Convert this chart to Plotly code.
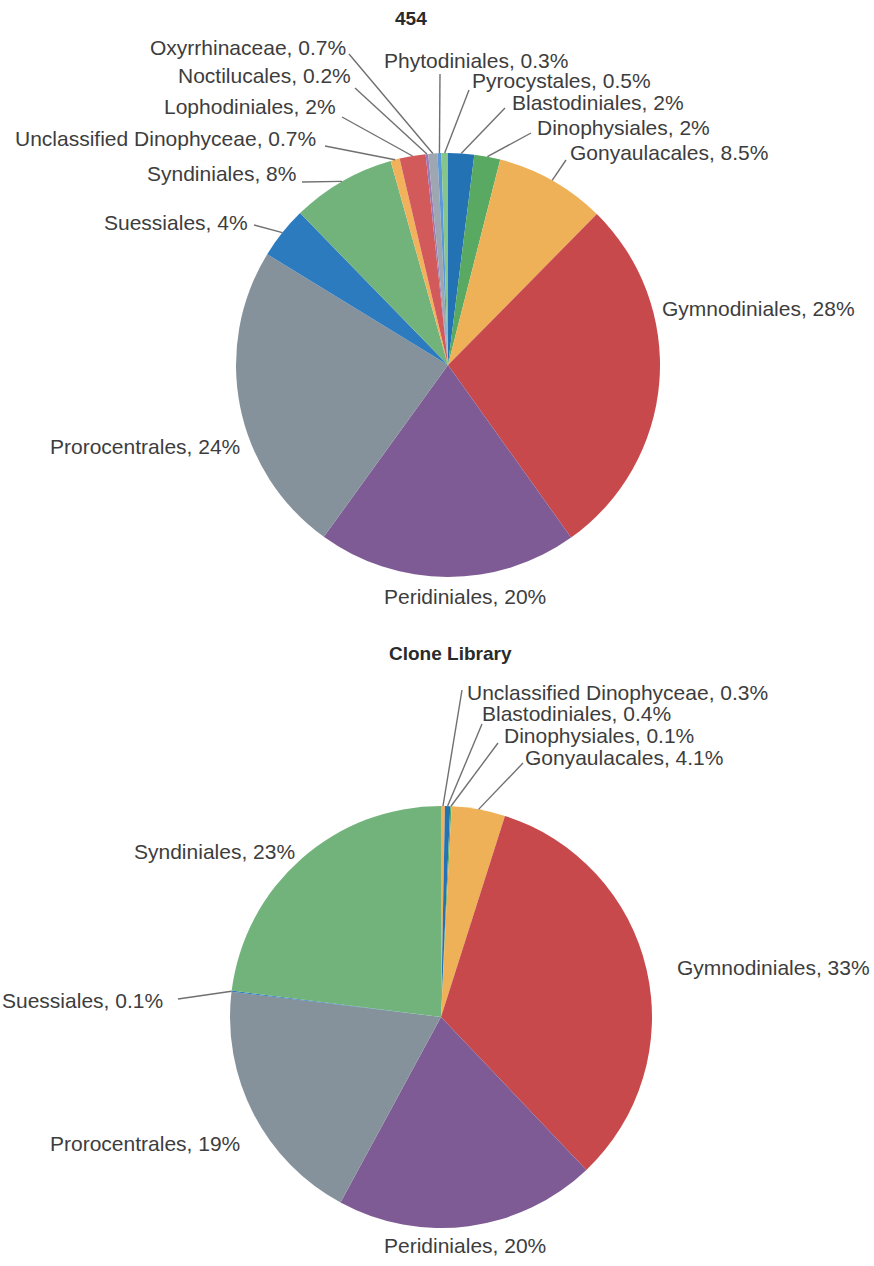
import math
import plotly.graph_objects as go

W, H = 874, 1266

# ---------------- data ----------------
top_title = "454"
top_labels = ["Blastodiniales", "Dinophysiales", "Gonyaulacales", "Gymnodiniales",
              "Peridiniales", "Prorocentrales", "Suessiales", "Syndiniales",
              "Unclassified Dinophyceae", "Lophodiniales", "Noctilucales",
              "Oxyrrhinaceae", "Phytodiniales", "Pyrocystales"]
top_values = [2, 2, 8.5, 28, 20, 24, 4, 8, 0.7, 2, 0.2, 0.7, 0.3, 0.5]
top_value_text = ["2%", "2%", "8.5%", "28%", "20%", "24%", "4%", "8%", "0.7%", "2%",
                  "0.2%", "0.7%", "0.3%", "0.5%"]

bot_title = "Clone Library"
bot_labels = ["Unclassified Dinophyceae", "Blastodiniales", "Dinophysiales",
              "Gonyaulacales", "Gymnodiniales", "Peridiniales", "Prorocentrales",
              "Suessiales", "Syndiniales"]
bot_values = [0.3, 0.4, 0.1, 4.1, 33, 20, 19, 0.1, 23]
bot_value_text = ["0.3%", "0.4%", "0.1%", "4.1%", "33%", "20%", "19%", "0.1%", "23%"]

# ---------------- styles ----------------
color_map = {
    "Blastodiniales": "#2372b3",
    "Dinophysiales": "#5aa963",
    "Gonyaulacales": "#eeb157",
    "Gymnodiniales": "#c8494c",
    "Peridiniales": "#7e5b94",
    "Prorocentrales": "#85929b",
    "Suessiales": "#2d7bbf",
    "Syndiniales": "#72b37b",
    "Unclassified Dinophyceae": "#f2b25c",
    "Lophodiniales": "#d35a5a",
    "Noctilucales": "#9a7ab5",
    "Oxyrrhinaceae": "#9ea7b1",
    "Phytodiniales": "#5b9ad8",
    "Pyrocystales": "#86c58c",
}

# pie geometry in pixels (center x, center y, radius)
top_geom = (448, 365, 212)
bot_geom = (441, 1017, 211)

# label layout in pixels: (text x, text y, anchor, line start or None)
top_label_pos = [
    (510, 103, "left", (505, 108)),
    (535, 128, "left", (531, 133)),
    (568, 152, "left", (566, 160)),
    (660, 308, "left", None),
    (465, 597, "center", None),
    (242, 447, "right", None),
    (250, 223, "right", (254, 225)),
    (298, 174, "right", (302, 182)),
    (318, 138, "right", (325, 146)),
    (338, 107, "right", (342, 117)),
    (353, 75, "right", (355, 88)),
    (348, 47, "right", (349, 54)),
    (382, 60, "left", (440, 74)),
    (470, 80, "left", (469, 90)),
]
bot_label_pos = [
    (465, 692, "left", (462, 690)),
    (480, 713, "left", (482, 724)),
    (502, 735, "left", (498, 743)),
    (523, 757, "left", (523, 763)),
    (675, 967, "left", None),
    (465, 1245, "center", None),
    (242, 1143, "right", None),
    (165, 1000, "right", (178, 999)),
    (297, 852, "right", None),
]
title_pos = [(411, 18), (451, 653)]

FONT = "Liberation Sans, Arial, Helvetica, sans-serif"
TEXT_COLOR = "#3d3d3d"
LINE_COLOR = "#707070"


def px(x):
    return x / W


def py(y):
    return 1 - y / H


fig = go.Figure()
annotations = []
shapes = []


def add_pie(labels, values, vtext, geom, label_pos):
    cx, cy, r = geom
    fig.add_trace(go.Pie(
        labels=labels, values=values, sort=False, direction="clockwise", rotation=0,
        textinfo="none", hoverinfo="label+percent", showlegend=False,
        marker=dict(colors=[color_map[l] for l in labels], line=dict(width=0)),
        domain=dict(x=[px(cx - r), px(cx + r)], y=[py(cy + r), py(cy - r)]),
    ))
    total = sum(values)
    cum = 0.0
    for lab, v, vt, (tx, ty, anc, ls) in zip(labels, values, vtext, label_pos):
        mid = (cum + v / 2) / total * 2 * math.pi
        cum += v
        ex = cx + r * math.sin(mid)
        ey = cy - r * math.cos(mid)
        annotations.append(dict(
            x=px(tx), y=py(ty), xref="paper", yref="paper", showarrow=False,
            text=f"{lab}, {vt}", xanchor=anc, yanchor="middle",
            font=dict(family=FONT, size=21, color=TEXT_COLOR),
        ))
        if ls is not None:
            shapes.append(dict(
                type="line", xref="paper", yref="paper",
                x0=px(ls[0]), y0=py(ls[1]), x1=px(ex), y1=py(ey),
                line=dict(color=LINE_COLOR, width=1.4),
            ))


add_pie(top_labels, top_values, top_value_text, top_geom, top_label_pos)
add_pie(bot_labels, bot_values, bot_value_text, bot_geom, bot_label_pos)

for t, (x, y) in zip([top_title, bot_title], title_pos):
    annotations.append(dict(
        x=px(x), y=py(y), xref="paper", yref="paper", showarrow=False,
        text=f"<b>{t}</b>", xanchor="center", yanchor="middle",
        font=dict(family=FONT, size=19, color="#2a2a2a"),
    ))

fig.update_layout(
    width=W, height=H, margin=dict(l=0, r=0, t=0, b=0),
    paper_bgcolor="white", plot_bgcolor="white",
    annotations=annotations, shapes=shapes,
)

fig.write_html("out.html", config={"displayModeBar": False},
               post_script="document.body.style.margin='0px';document.body.style.overflow='hidden';")
